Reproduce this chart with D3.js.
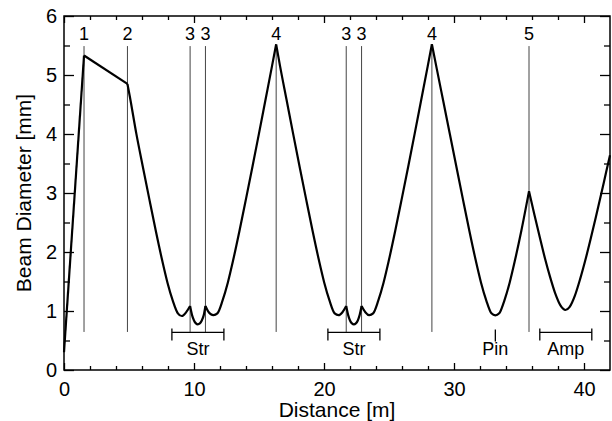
<!DOCTYPE html>
<html>
<head>
<meta charset="utf-8">
<script src="https://cdn.jsdelivr.net/npm/d3@7"></script>
<style>
  html, body { margin: 0; padding: 0; background: #fff; }
  svg { display: block; }
  text { font-family: "Liberation Sans", Arial, Helvetica, sans-serif; fill: #000; }
</style>
</head>
<body>
<svg id="chart" width="612" height="421"></svg>
<script>
// ---- data ----
const xTickValues = [0, 10, 20, 30, 40];
const yTickValues = [0, 1, 2, 3, 4, 5, 6];

const lensPos    = [1.54, 4.88, 9.70, 10.88, 16.32, 21.71, 22.89, 28.30, 35.77];
const lensLabels = ["1", "2", "3", "3", "4", "3", "3", "4", "5"];

const groupLabels = ["Str", "Str", "Pin", "Amp"];
const groupStart  = [8.3, 20.3, 33.18, 36.6];
const groupEnd    = [12.3, 24.3, 33.18, 40.6];

const beamDistance = [
  0, 1.54,
  4.88,
  5.06, 5.56, 6.06, 6.56, 7.06, 7.56, 7.96, 8.36, 8.76, 9.06, 9.40, 9.70,
  9.85, 10.0, 10.15, 10.29, 10.45, 10.6, 10.75, 10.88,
  11.1, 11.3, 11.5, 11.8, 12.2, 12.6, 13.0, 13.5, 14.0, 14.5, 15.0, 15.5, 16.0, 16.32,
  16.62, 17.12, 17.62, 18.12, 18.62, 19.12, 19.62, 20.02, 20.42, 20.82, 21.12, 21.42, 21.71,
  21.86, 22.0, 22.15, 22.30, 22.45, 22.6, 22.74, 22.89,
  23.18, 23.48, 23.78, 24.18, 24.58, 24.98, 25.48, 25.98, 26.48, 26.98, 27.48, 27.98, 28.30,
  28.68, 29.18, 29.68, 30.18, 30.68, 31.18, 31.68, 32.08, 32.48, 32.88, 33.18, 33.48, 33.88, 34.28, 34.68, 35.18, 35.77,
  36.2, 36.6, 37.0, 37.4, 37.8, 38.2, 38.57, 38.9, 39.3, 39.7, 40.1, 40.5, 40.9, 41.3, 41.7, 42.0
];
const beamDiameter = [
  0.30, 5.33,
  4.85,
  4.64, 4.01, 3.45, 2.90, 2.36, 1.85, 1.48, 1.18, 0.96, 0.915, 0.98, 1.085,
  0.93, 0.84, 0.79, 0.775, 0.79, 0.84, 0.93, 1.085,
  0.99, 0.945, 0.93, 0.96, 1.18, 1.48, 1.85, 2.36, 2.90, 3.45, 4.01, 4.58, 5.15, 5.52,
  5.15, 4.58, 4.01, 3.45, 2.90, 2.36, 1.85, 1.48, 1.18, 0.96, 0.93, 0.98, 1.085,
  0.93, 0.84, 0.79, 0.775, 0.79, 0.84, 0.93, 1.085,
  0.98, 0.93, 0.96, 1.18, 1.48, 1.85, 2.36, 2.90, 3.45, 4.01, 4.58, 5.15, 5.52,
  5.10, 4.55, 4.00, 3.45, 2.90, 2.36, 1.85, 1.48, 1.18, 0.96, 0.925, 0.96, 1.18, 1.48, 1.85, 2.36, 3.03,
  2.62, 2.25, 1.89, 1.57, 1.29, 1.09, 1.017, 1.07, 1.26, 1.54, 1.86, 2.21, 2.58, 2.96, 3.35, 3.64
];

// ---- layout ----
const svg = d3.select("#chart");
const mLeft = 64, mRight = 610, mTop = 16, mBottom = 370;
const x = d3.scaleLinear().domain([0, 42]).range([mLeft, mRight]);
const y = d3.scaleLinear().domain([0, 6]).range([mBottom, mTop]);

const lensTop = 5.49, lensBottom = 0.645;

const minorX = d3.range(2, 42, 2).filter(v => v % 10 !== 0);
const minorY = d3.range(0.5, 6, 1);
const fmt = d3.format("d");

// axes (ticks inward)
function styleAxis(g) {
  g.select(".domain").remove();
  g.selectAll("line").attr("stroke", "#000").attr("stroke-width", 1.3);
  g.selectAll("text").style("font-size", "20px").attr("fill", "#000")
    .style("font-family", '"Liberation Sans", Arial, sans-serif');
}
svg.append("g").attr("transform", `translate(0,${mBottom})`)
  .call(d3.axisBottom(x).tickValues(xTickValues).tickFormat(fmt).tickSizeInner(-7).tickSizeOuter(0).tickPadding(12))
  .call(styleAxis);
svg.append("g").attr("transform", `translate(0,${mBottom})`)
  .call(d3.axisBottom(x).tickValues(minorX).tickSizeInner(-4).tickSizeOuter(0).tickFormat(""))
  .call(styleAxis);
svg.append("g").attr("transform", `translate(0,${mTop})`)
  .call(d3.axisTop(x).tickValues(xTickValues).tickSizeInner(-7).tickSizeOuter(0).tickFormat(""))
  .call(styleAxis);
svg.append("g").attr("transform", `translate(0,${mTop})`)
  .call(d3.axisTop(x).tickValues(minorX).tickSizeInner(-4).tickSizeOuter(0).tickFormat(""))
  .call(styleAxis);
svg.append("g").attr("transform", `translate(${mLeft},0)`)
  .call(d3.axisLeft(y).tickValues(yTickValues).tickFormat(fmt).tickSizeInner(-10).tickSizeOuter(0).tickPadding(7))
  .call(styleAxis);
svg.append("g").attr("transform", `translate(${mLeft},0)`)
  .call(d3.axisLeft(y).tickValues(minorY).tickSizeInner(-6).tickSizeOuter(0).tickFormat(""))
  .call(styleAxis);
svg.append("g").attr("transform", `translate(${mRight},0)`)
  .call(d3.axisRight(y).tickValues(yTickValues).tickSizeInner(-10).tickSizeOuter(0).tickFormat(""))
  .call(styleAxis);
svg.append("g").attr("transform", `translate(${mRight},0)`)
  .call(d3.axisRight(y).tickValues(minorY).tickSizeInner(-6).tickSizeOuter(0).tickFormat(""))
  .call(styleAxis);

// frame
svg.append("rect").attr("x", mLeft).attr("y", mTop)
  .attr("width", mRight - mLeft).attr("height", mBottom - mTop)
  .attr("fill", "none").attr("stroke", "#000").attr("stroke-width", 1.5);

// lens lines
svg.append("g").selectAll("line").data(lensPos).join("line")
  .attr("x1", d => x(d)).attr("x2", d => x(d))
  .attr("y1", y(lensTop)).attr("y2", y(lensBottom))
  .attr("stroke", "#444").attr("stroke-width", 1);
svg.append("g").selectAll("text").data(lensPos).join("text")
  .attr("x", d => x(d)).attr("y", 40)
  .attr("text-anchor", "middle").style("font-size", "18px")
  .text((d, i) => lensLabels[i]);

// group brackets
const bY = y(lensBottom) + 0.5;
const brackets = svg.append("g").attr("stroke", "#000").attr("stroke-width", 1.3);
groupLabels.forEach((lab, i) => {
  const x0 = x(groupStart[i]), x1 = x(groupEnd[i]);
  if (x1 > x0) {
    brackets.append("line").attr("x1", x0).attr("x2", x1).attr("y1", bY).attr("y2", bY);
    brackets.append("line").attr("x1", x0).attr("x2", x0).attr("y1", bY - 4).attr("y2", bY + 8);
    brackets.append("line").attr("x1", x1).attr("x2", x1).attr("y1", bY - 4).attr("y2", bY + 8);
  } else {
    brackets.append("line").attr("x1", x0).attr("x2", x0).attr("y1", bY - 3).attr("y2", bY + 9);
  }
  svg.append("text").attr("x", (x0 + x1) / 2).attr("y", 355)
    .attr("text-anchor", "middle").style("font-size", "18px").text(lab);
});

// beam curve, split into segments at lens positions
const pts = beamDistance.map((d, i) => [d, beamDiameter[i]]);
const segments = [];
let cur = [pts[0]];
for (let i = 1; i < pts.length; i++) {
  cur.push(pts[i]);
  if (lensPos.includes(pts[i][0]) && i < pts.length - 1) {
    segments.push(cur);
    cur = [pts[i]];
  }
}
segments.push(cur);
const line = d3.line().x(d => x(d[0])).y(d => y(d[1])).curve(d3.curveMonotoneX);
svg.append("g").selectAll("path").data(segments).join("path")
  .attr("d", line).attr("fill", "none").attr("stroke", "#000")
  .attr("stroke-width", 2.2).attr("stroke-linejoin", "miter");

// axis titles
svg.append("text").attr("x", (mLeft + mRight) / 2).attr("y", 417)
  .attr("text-anchor", "middle").style("font-size", "21px").text("Distance [m]");
svg.append("text").attr("transform", `translate(31,${(mTop + mBottom) / 2}) rotate(-90)`)
  .attr("text-anchor", "middle").style("font-size", "21px").text("Beam Diameter [mm]");
</script>
</body>
</html>
